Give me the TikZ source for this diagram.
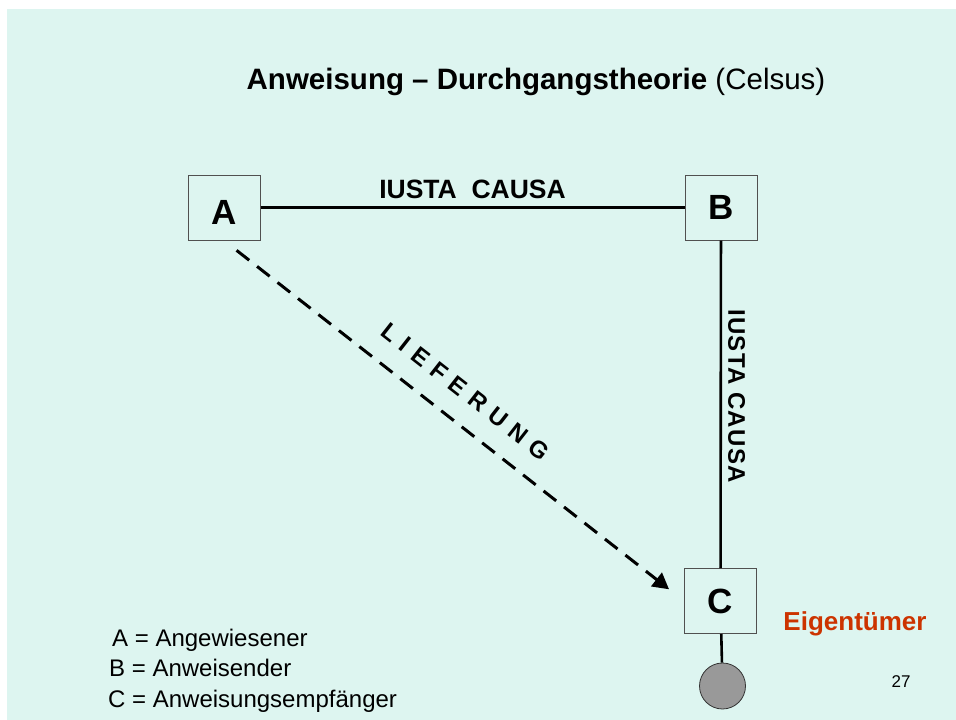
\documentclass[tikz,border=0pt]{standalone}
\usepackage{fontspec}
\setmainfont{Liberation Sans}
\usetikzlibrary{arrows.meta}
\definecolor{bgmint}{RGB}{221,245,240}
\definecolor{eigred}{RGB}{204,51,0}
\definecolor{boxline}{RGB}{80,80,80}
\definecolor{ballgray}{RGB}{153,153,153}
\begin{document}
\begin{tikzpicture}[x=1pt,y=-1pt,
  letterbox/.style={draw=boxline, line width=1pt, fill=bgmint, minimum width=72pt,
    minimum height=65pt, inner sep=0pt, font=\fontsize{35}{40}\selectfont\bfseries},
  link/.style={line width=2.6pt},
  deliver/.style={line width=3pt, dash pattern=on 16pt off 10pt,
    -{Triangle[length=16pt,width=17pt]}, shorten <=16pt, shorten >=19pt},
  legend/.style={anchor=base west, inner sep=0pt, font=\fontsize{24}{27}\selectfont},
  ball/.style={circle, draw=black!80, line width=0.8pt, fill=ballgray, minimum size=46pt, inner sep=0pt}]
\fill[white] (0,0) rectangle (956,720);
\fill[bgmint] (7,9) rectangle (956,720);
\useasboundingbox (0,0) rectangle (956,720);

\node[anchor=base, inner sep=0pt, font=\fontsize{29.5}{34}\selectfont] (title) at (536,89)
  {\textbf{Anweisung – Durchgangstheorie} (Celsus)};

\node[letterbox, text height=33pt, text depth=0pt] (A) at (224,207.5) {A};
\node[letterbox] (B) at (721,207.5) {B};
\node[letterbox] (C) at (720.5,601) {C};
\node[ball] (D) at (722.5,686) {};

\draw[link] (A) -- node[midway, anchor=base, yshift=9pt, inner sep=0pt,
  font=\fontsize{26.5}{30}\selectfont\bfseries] (l1) {IUSTA~~CAUSA} (B);
\draw[link] (B) -- node[pos=0.475, rotate=-90, anchor=south, inner sep=6pt,
  font=\fontsize{24}{28}\selectfont\bfseries\addfontfeatures{LetterSpace=5}] (l2) {IUSTA CAUSA} (C);
\draw[link] (C) -- (D);
\draw[deliver] (A.south) -- node[sloped, pos=0.485, above=20pt, inner sep=0pt,
  font=\fontsize{24}{28}\selectfont\bfseries\addfontfeatures{LetterSpace=35}] (l3) {LIEFERUNG} (C.west);

\node[anchor=base, inner sep=0pt, text=eigred, font=\fontsize{26}{30}\selectfont\bfseries] (eig) at (855,630) {Eigentümer};
\node[anchor=base, inner sep=0pt, font=\fontsize{17}{20}\selectfont] (page) at (901,687) {27};

\node[legend] (la) at (112,646) {A = Angewiesener};
\node[legend] (lb) at (109,676) {B = Anweisender};
\node[legend] (lc) at (108,707) {C = Anweisungsempfänger};
\end{tikzpicture}
\end{document}
